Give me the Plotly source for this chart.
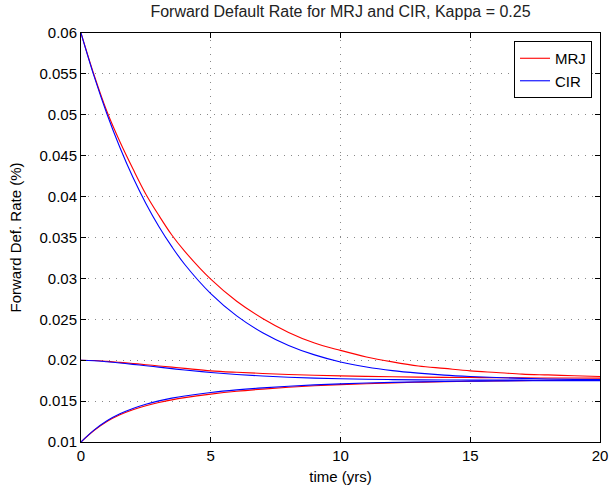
import plotly.graph_objects as go

# time grid (years)
t = [0, 0.5, 1, 1.5, 2, 2.5, 3, 3.5, 4, 5, 6, 7, 8, 9, 10, 11, 12, 13, 14, 15, 16, 17, 18, 19, 20]

# MRJ (red) forward default rates
mrj_high = [0.0600, 0.0549, 0.0504, 0.0467, 0.0434, 0.0403, 0.0377, 0.0353, 0.0333, 0.0299, 0.0272,
            0.0251, 0.0234, 0.0221, 0.0212, 0.0204, 0.0198, 0.0193, 0.0190, 0.0187, 0.0185, 0.0183,
            0.0182, 0.0181, 0.0180]
mrj_mid = [0.0200, 0.01996, 0.01986, 0.01973, 0.0196, 0.01945, 0.0193, 0.01915, 0.0190, 0.0187, 0.01852,
           0.01838, 0.01826, 0.01816, 0.01808, 0.01802, 0.01797, 0.01793, 0.0179, 0.01788, 0.01786, 0.01784,
           0.01783, 0.01782, 0.01781]
mrj_low = [0.0100, 0.0114, 0.0125, 0.01332, 0.01394, 0.01443, 0.01482, 0.01515, 0.01542, 0.01585, 0.0162,
           0.01647, 0.01669, 0.01687, 0.01701, 0.01713, 0.01723, 0.01731, 0.01738, 0.01743, 0.01747, 0.0175,
           0.01753, 0.01755, 0.01757]

# CIR (blue) forward default rates
cir_high = [0.0600, 0.05475, 0.0501, 0.0460, 0.04236, 0.03917, 0.03635, 0.03388, 0.0317, 0.02814, 0.02542,
            0.02336, 0.02181, 0.02065, 0.01979, 0.01917, 0.01873, 0.01842, 0.01818, 0.01801, 0.01788, 0.01778,
            0.01771, 0.01766, 0.01762]
cir_mid = [0.0200, 0.01994, 0.01981, 0.01966, 0.01949, 0.01932, 0.01915, 0.01897, 0.0188, 0.0185, 0.01826,
           0.01807, 0.01792, 0.01781, 0.01773, 0.01767, 0.01763, 0.0176, 0.01758, 0.01757, 0.01756, 0.01756,
           0.01755, 0.01755, 0.01755]
cir_low = [0.0100, 0.01145, 0.0126, 0.01345, 0.0141, 0.01462, 0.01503, 0.01536, 0.01563, 0.01605, 0.01637,
           0.01662, 0.01682, 0.01698, 0.01711, 0.01721, 0.01729, 0.01735, 0.0174, 0.01743, 0.01746, 0.01748,
           0.01749, 0.0175, 0.0175]

x_ticks = [0, 5, 10, 15, 20]
x_tick_labels = ["0", "5", "10", "15", "20"]
y_ticks = [0.01, 0.015, 0.02, 0.025, 0.03, 0.035, 0.04, 0.045, 0.05, 0.055, 0.06]
y_tick_labels = ["0.01", "0.015", "0.02", "0.025", "0.03", "0.035", "0.04", "0.045", "0.05", "0.055", "0.06"]

series = [
    ("MRJ", "#ff0000", [mrj_high, mrj_mid, mrj_low]),
    ("CIR", "#0000ff", [cir_high, cir_mid, cir_low]),
]

fig = go.Figure()
for name, color, curves in series:
    for i, ys in enumerate(curves):
        fig.add_trace(go.Scatter(
            x=t, y=ys, mode="lines", name=name, legendgroup=name,
            showlegend=(i == 0),
            line=dict(color=color, width=1.1, shape="spline", smoothing=1.0),
        ))

FONT = "Liberation Sans, Arial, Helvetica, sans-serif"
axis_common = dict(
    showline=True, linecolor="black", linewidth=1, mirror="allticks",
    ticks="inside", ticklen=5, tickcolor="black", tickwidth=1,
    showgrid=True, gridcolor="#888888", gridwidth=1, griddash="1px,6px",
    zeroline=False, automargin=False,
    tickfont=dict(family=FONT, size=15, color="black"),
)

fig.update_layout(
    width=610, height=488,
    margin=dict(l=81, r=10, t=33, b=46),
    paper_bgcolor="white", plot_bgcolor="white",
    font=dict(family=FONT, size=15, color="black"),
    title=dict(text="Forward Default Rate for MRJ and CIR, Kappa = 0.25",
               x=0.5, xref="paper", xanchor="center", y=1, yref="container", yanchor="top",
               pad=dict(t=6), font=dict(family=FONT, size=16, color="#222")),
    legend=dict(x=0.9846, y=0.9804, xanchor="right", yanchor="top",
                bordercolor="black", borderwidth=1, bgcolor="white",
                font=dict(family=FONT, size=15, color="black"),
                tracegroupgap=0, itemwidth=30),
    showlegend=True,
)
fig.update_xaxes(range=[0, 20], tickvals=x_ticks, ticktext=x_tick_labels,
                 title=dict(text="time (yrs)", standoff=8, font=dict(family=FONT, size=15)),
                 **axis_common)
fig.update_yaxes(range=[0.01, 0.06], tickvals=y_ticks, ticktext=y_tick_labels,
                 title=dict(text="Forward Def. Rate (%)", standoff=14, font=dict(family=FONT, size=15)),
                 **axis_common)

fig.write_html("out.html")
